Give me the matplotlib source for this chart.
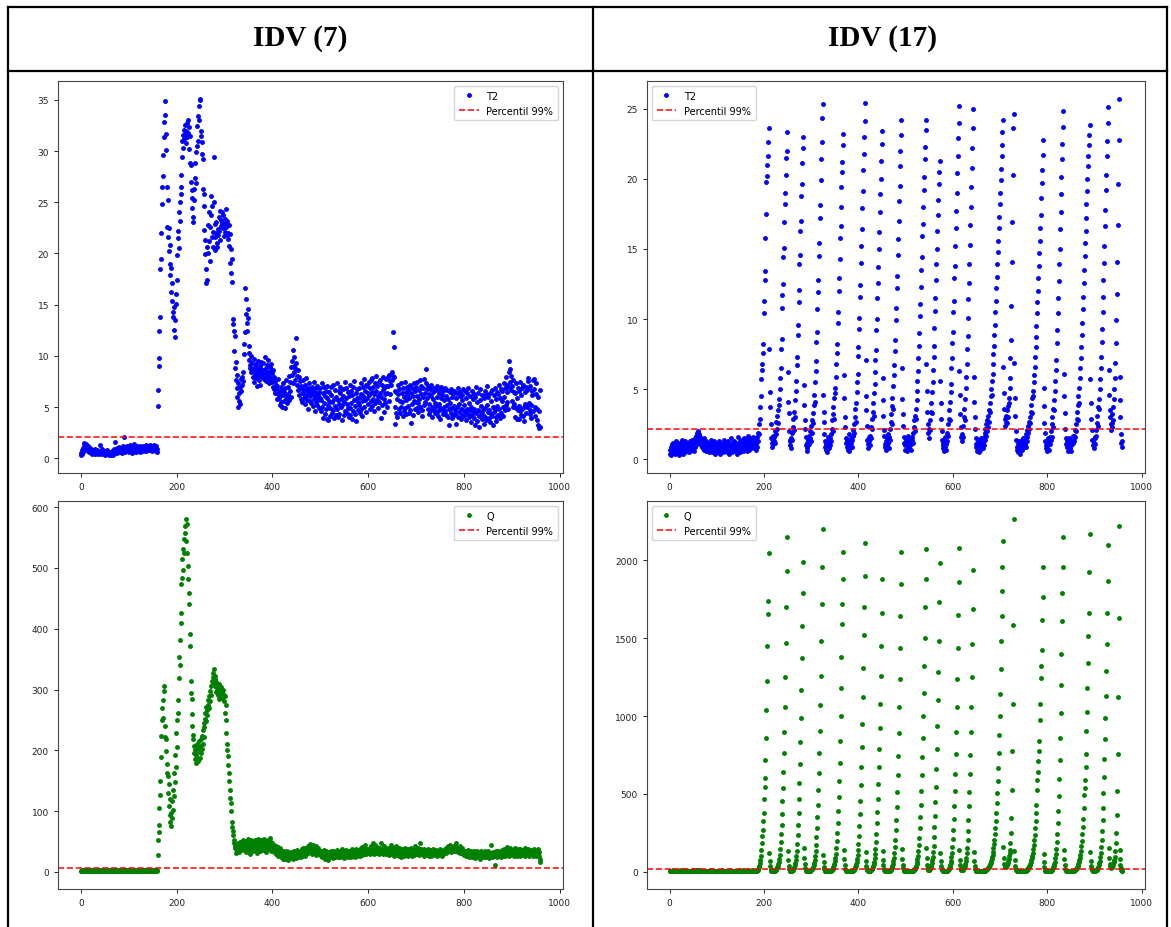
import matplotlib
matplotlib.use("Agg")
import matplotlib.pyplot as plt
from matplotlib.lines import Line2D
import numpy as np


# ---------------- IDV (7) ----------------
T2_IDV7_NORMAL = [
    0.3, 0.5, 0.4, 0.8, 1.0, 0.6, 1.2, 1.5, 1.3, 1.1, 1.4, 0.9, 1.0, 0.8, 1.2, 0.7, 0.9, 0.6, 1.0, 0.8,
    0.7, 0.5, 0.9, 0.6, 0.4, 0.7, 0.8, 0.5, 0.6, 0.9, 0.4, 0.7, 0.5, 0.6, 0.8, 0.4, 0.6, 0.5, 0.7, 1.3,
    0.6, 0.5, 0.4, 0.7, 0.6, 0.9, 0.5, 0.6, 0.4, 0.5, 0.7, 0.3, 0.6, 0.5, 0.8, 0.4, 0.6, 0.5, 0.3, 0.6,
    0.4, 0.5, 0.3, 0.6, 0.4, 0.7, 0.5, 0.3, 0.8, 0.6, 0.9, 0.5, 1.6, 0.7, 0.6, 1.0, 0.5, 0.8, 0.6, 0.9,
    1.1, 0.7, 0.6, 0.9, 1.0, 0.5, 0.8, 1.2, 0.7, 0.9, 2.1, 1.0, 0.8, 0.6, 1.1, 0.9, 0.7, 1.2, 0.8, 1.0,
    0.6, 0.9, 1.3, 0.7, 1.0, 0.8, 0.5, 1.1, 0.9, 0.6, 1.0, 1.4, 0.8, 0.7, 1.1, 0.9, 0.6, 1.2, 0.8, 1.0,
    0.7, 1.0, 0.9, 1.2, 0.6, 0.8, 1.1, 0.9, 1.0, 0.7, 1.2, 0.8, 1.0, 0.9, 1.1, 0.7, 1.3, 0.9, 1.0, 0.8,
    1.1, 0.9, 1.2, 0.8, 1.0, 1.3, 0.9, 1.1, 0.7, 1.0, 1.2, 0.9, 1.1, 1.3, 1.0, 0.8, 1.2, 0.7, 0.6, 0.9,
]
T2_IDV7_FAULT = [
    5.1, 6.7, 9.0, 9.8, 12.4, 13.8, 18.5, 19.5, 22.0, 24.8, 26.5, 27.6, 29.6, 32.8, 31.4, 33.5, 34.9, 31.7, 30.1, 26.5,
    22.6, 25.2, 21.6, 20.2, 22.5, 19.0, 20.8, 17.9, 18.6, 16.2, 17.1, 15.4, 14.3, 13.8, 14.8, 12.5, 11.8, 13.5, 16.0, 15.1,
    17.4, 19.8, 21.5, 22.2, 24.0, 20.5, 25.0, 23.2, 26.5, 27.7, 25.8, 29.4, 31.0, 30.3, 31.6, 32.1, 31.2, 32.5, 31.7, 30.8,
    32.0, 32.7, 31.4, 33.0, 31.8, 32.3, 30.2, 28.8, 31.5, 27.0, 28.6, 26.2, 24.4, 25.4, 23.6, 23.1, 25.2, 26.3, 27.4, 28.8,
    26.9, 29.9, 30.5, 32.4, 31.0, 33.4, 34.4, 33.0, 35.1, 35.0, 32.0, 31.5, 30.9, 29.7, 29.2, 26.3, 25.8, 24.6, 22.3, 21.3,
    19.9, 18.5, 17.1, 20.6, 17.4, 22.8, 20.0, 21.2, 24.0, 19.3, 22.6, 25.6, 23.8, 24.6, 21.6, 20.6, 22.1, 29.4, 25.0, 22.9,
    21.6, 20.3, 23.1, 22.0, 21.0, 20.6, 21.8, 22.4, 23.6, 22.2, 21.3, 24.1, 23.3, 22.7, 24.0, 23.0, 22.5, 23.8, 21.7, 22.9,
    23.4, 22.1, 24.3, 23.0, 22.6, 21.8, 23.2, 22.0, 21.4, 22.8, 20.7, 21.9, 19.1, 20.4, 18.1, 17.2, 19.5, 13.6, 13.1, 12.4,
    10.5, 11.9, 8.8, 9.4, 7.6, 8.1, 6.9, 6.0, 7.3, 5.0, 5.6, 6.4, 7.0, 5.3, 7.7, 6.6, 7.9, 7.2, 8.4, 7.5,
    10.2, 11.2, 12.3, 16.6, 15.6, 14.1, 13.2, 12.4, 14.6, 13.7, 11.0, 9.6, 10.3, 8.8, 9.1, 8.4, 10.0, 8.7, 9.3, 7.9,
    8.6, 9.7, 7.4, 8.9, 8.2, 9.2, 7.8, 8.5, 7.1, 9.5, 8.0, 8.8, 7.6, 9.0, 8.3, 7.2, 8.7, 9.4, 7.9, 8.4,
    8.1, 9.3, 7.7, 8.6, 9.9, 8.2, 7.5, 8.8, 9.1, 7.9, 8.4, 9.6, 7.3, 8.0, 8.9, 7.6, 8.5, 9.2, 7.8, 8.3,
    7.4, 8.6, 7.0, 7.9, 6.8, 7.5, 6.4, 7.2, 6.9, 5.8, 7.1, 6.3, 7.7, 5.9, 6.6, 5.2, 6.1, 7.0, 5.5, 6.4,
    6.8, 5.0, 6.2, 7.3, 5.6, 6.5, 4.9, 6.9, 5.8, 7.6, 6.1, 5.4, 7.0, 6.3, 8.0, 5.7, 6.6, 7.4, 6.0, 8.9,
    9.5, 8.1, 7.3, 10.6, 9.0, 8.4, 9.9, 7.6, 8.8, 11.7, 9.3, 8.0, 7.2, 8.6, 6.7, 7.9, 6.2, 7.5, 6.9, 5.8,
    7.1, 6.4, 5.5, 6.8, 7.6, 5.9, 6.3, 7.2, 6.0, 5.3, 6.7, 7.8, 6.2, 5.7, 6.9, 4.8, 6.5, 7.3, 5.6, 6.1,
    6.8, 5.4, 7.0, 6.3, 5.1, 6.6, 7.4, 5.8, 6.0, 4.6, 6.9, 5.5, 6.4, 7.1, 5.2, 6.2, 5.7, 4.9, 6.5, 5.9,
    6.9, 4.6, 5.7, 7.3, 5.0, 3.9, 6.4, 5.4, 7.0, 4.3, 6.1, 6.6, 4.8, 3.8, 5.9, 7.1, 5.2, 3.7, 5.6, 6.5,
    4.9, 4.1, 6.2, 7.0, 4.4, 5.5, 7.2, 4.7, 3.9, 5.8, 6.7, 5.1, 4.2, 6.0, 7.3, 4.8, 4.0, 5.7, 6.6, 5.3,
    4.3, 6.4, 7.0, 5.0, 5.8, 3.7, 5.2, 6.8, 6.1, 4.2, 5.5, 7.4, 4.6, 5.9, 6.9, 4.4, 5.3, 6.5, 4.9, 4.0,
    6.1, 7.2, 4.9, 4.2, 6.6, 5.4, 3.8, 6.2, 7.0, 4.6, 5.7, 7.5, 4.3, 5.1, 6.4, 3.6, 5.9, 6.8, 4.7, 5.5,
    6.9, 5.2, 4.4, 6.0, 7.3, 4.8, 6.3, 5.6, 4.1, 7.0, 6.1, 7.7, 5.0, 6.6, 5.7, 7.2, 4.5, 5.9, 7.1, 6.4,
    5.3, 7.4, 6.2, 4.8, 6.9, 5.6, 7.6, 5.1, 6.5, 7.8, 5.8, 7.0, 4.6, 6.3, 7.3, 5.4, 8.0, 6.6, 5.7, 7.1,
    4.9, 6.1, 7.4, 5.5, 7.6, 6.4, 3.9, 6.0, 7.2, 5.2, 6.7, 7.9, 5.8, 4.5, 6.9, 6.3, 5.4, 7.7, 7.1, 5.0,
    6.4, 7.9, 7.1, 5.6, 8.1, 7.5, 6.3, 8.2, 7.2, 8.4, 7.6, 8.0, 12.3, 10.9, 7.9, 6.6, 3.3, 5.0, 4.4, 6.5,
    5.8, 4.0, 6.3, 7.2, 4.8, 6.8, 5.6, 4.4, 7.3, 5.0, 6.4, 5.5, 4.1, 6.9, 6.0, 4.6, 7.4, 4.9, 6.5, 5.7,
    4.3, 7.0, 6.2, 5.1, 6.7, 4.4, 5.9, 7.2, 4.7, 3.4, 6.4, 5.3, 6.9, 6.1, 4.2, 7.3, 5.6, 4.8, 6.6, 5.5,
    7.0, 4.9, 6.1, 7.4, 5.4, 4.5, 6.7, 5.8, 7.6, 5.0, 6.3, 7.1, 4.7, 4.1, 6.0, 6.9, 5.2, 7.7, 6.4, 5.5,
    7.3, 8.7, 6.8, 5.9, 4.8, 7.1, 4.3, 6.3, 5.3, 6.8, 4.6, 6.1, 7.2, 5.0, 4.0, 6.5, 5.8, 4.7, 6.9, 5.4,
    4.4, 6.7, 5.1, 6.0, 7.1, 4.6, 4.1, 6.4, 5.3, 6.8, 4.9, 3.8, 5.9, 7.0, 4.7, 6.2, 4.3, 6.6, 5.0, 5.7,
    6.9, 4.6, 4.2, 6.1, 5.2, 6.7, 4.0, 5.8, 3.2, 4.8, 6.5, 5.4, 4.4, 6.8, 4.9, 3.9, 6.0, 6.3, 4.1, 5.1,
    6.6, 4.7, 4.3, 5.9, 3.3, 6.4, 5.0, 4.0, 6.9, 5.3, 4.5, 6.1, 6.5, 3.8, 4.8, 6.2, 4.2, 5.7, 6.8, 4.7,
    4.1, 5.2, 6.6, 4.5, 5.9, 3.7, 6.4, 4.8, 4.3, 6.9, 5.4, 4.0, 4.7, 6.1, 3.5, 5.0, 6.6, 4.2, 5.8, 4.5,
    6.3, 3.9, 4.8, 3.2, 6.0, 7.0, 4.4, 5.5, 3.6, 6.4, 4.7, 4.1, 3.1, 5.7, 6.8, 4.5, 5.1, 3.8, 6.2, 4.7,
    4.2, 5.9, 3.3, 6.6, 4.0, 4.9, 6.3, 3.7, 5.2, 7.1, 4.5, 6.0, 3.9, 4.7, 3.5, 6.4, 4.3, 5.6, 6.7, 4.1,
    5.0, 3.2, 6.2, 4.5, 6.9, 4.7, 4.0, 5.8, 3.6, 6.5, 5.1, 4.2, 6.3, 7.2, 4.8, 3.9, 5.9, 6.8, 4.4, 5.6,
    6.6, 5.0, 4.1, 7.3, 6.0, 4.7, 6.9, 7.9, 5.2, 6.5, 5.5, 7.2, 4.8, 7.0, 8.4, 9.5, 8.7, 7.4, 8.0, 6.7,
    5.6, 7.1, 5.0, 7.6, 6.5, 5.3, 4.0, 6.4, 4.9, 7.3, 3.8, 5.9, 6.9, 4.7, 3.8, 6.6, 5.1, 7.4, 4.6, 4.2,
    6.2, 6.9, 4.8, 4.1, 7.2, 5.0, 3.6, 6.5, 5.3, 7.0, 4.4, 5.0, 6.7, 7.5, 7.8, 5.4, 6.9, 4.3, 4.7, 7.1,
    5.2, 3.9, 6.6, 6.2, 7.6, 4.6, 6.8, 7.7, 5.0, 4.1, 6.3, 7.3, 4.8, 3.7, 6.0, 3.2, 4.6, 3.0, 6.7, 3.1,
]

Q_IDV7_NORMAL = [
    1, 2, 3, 2, 4, 3, 2, 3, 1, 2, 4, 3, 2, 1, 3, 2, 4, 2, 3, 1,
    2, 3, 1, 2, 3, 2, 4, 1, 2, 3, 2, 1, 3, 2, 2, 4, 1, 3, 2, 2,
    3, 1, 2, 4, 2, 3, 1, 2, 3, 2, 1, 3, 2, 4, 2, 1, 3, 2, 3, 1,
    2, 3, 2, 1, 4, 2, 3, 2, 1, 3, 2, 4, 1, 2, 3, 2, 3, 1, 2, 4,
    3, 2, 1, 3, 2, 4, 2, 3, 1, 2, 3, 2, 4, 3, 1, 2, 3, 2, 1, 3,
    2, 4, 3, 2, 1, 3, 2, 3, 4, 2, 1, 3, 2, 2, 4, 3, 1, 2, 3, 2,
    4, 2, 3, 1, 2, 3, 4, 2, 3, 2, 1, 3, 4, 2, 3, 2, 3, 1, 4, 2,
    3, 2, 4, 3, 2, 3, 1, 4, 2, 3, 2, 4, 3, 2, 3, 4, 2, 3, 2, 3,
]
Q_IDV7_FAULT = [
    28, 53, 65, 77, 105, 127, 149, 189, 223, 250, 270, 253, 283, 305, 298, 222, 240, 218, 199, 163,
    178, 157, 130, 145, 108, 120, 94, 82, 75, 97, 88, 116, 102, 135, 125, 163, 148, 193, 172, 229,
    205, 250, 283, 262, 319, 354, 340, 382, 426, 410, 473, 484, 514, 497, 531, 547, 525, 558, 569, 544,
    581, 572, 525, 503, 482, 458, 440, 391, 371, 314, 295, 285, 260, 240, 226, 218, 207, 196, 185, 201,
    192, 179, 210, 188, 204, 183, 198, 215, 187, 207, 196, 218, 203, 224, 211, 234, 222, 245, 238, 252,
    262, 248, 272, 266, 258, 283, 275, 270, 289, 281, 298, 305, 291, 314, 308, 320, 327, 310, 333, 322,
    318, 305, 296, 312, 300, 308, 291, 302, 285, 309, 295, 301, 288, 304, 297, 286, 299, 293, 281, 290,
    289, 262, 275, 250, 229, 210, 200, 190, 176, 163, 149, 135, 122, 113, 100, 82, 74, 67, 60, 53,
    48, 43, 39, 31, 37, 44, 35, 41, 47, 38, 33, 42, 50, 45, 36, 40, 48, 43, 52, 39,
    44, 36, 51, 40, 33, 47, 38, 42, 55, 35, 41, 49, 37, 45, 30, 43, 52, 39, 46, 34,
    48, 41, 36, 53, 44, 38, 50, 32, 45, 40, 54, 37, 43, 49, 35, 46, 41, 52, 38, 44,
    50, 36, 45, 55, 40, 47, 33, 51, 42, 48, 37, 53, 44, 39, 56, 46, 41, 49, 35, 43,
    47, 38, 42, 33, 45, 36, 40, 30, 43, 34, 38, 27, 41, 32, 36, 29, 39, 25, 34, 31,
    27, 33, 22, 30, 25, 35, 28, 21, 31, 26, 34, 24, 29, 20, 32, 27, 23, 30, 26, 33,
    28, 24, 31, 22, 27, 35, 25, 29, 33, 23, 30, 26, 36, 28, 24, 32, 27, 34, 29, 25,
    31, 37, 28, 34, 40, 30, 36, 27, 33, 39, 32, 29, 38, 35, 42, 31, 37, 34, 46, 33,
    38, 35, 41, 30, 44, 36, 33, 39, 31, 37, 42, 34, 28, 38, 35, 40, 32, 36, 29, 34,
    31, 27, 35, 24, 30, 33, 26, 29, 36, 22, 31, 28, 34, 25, 30, 27, 32, 20, 29, 33,
    26, 30, 24, 34, 28, 31, 23, 35, 27, 30, 25, 33, 29, 26, 36, 28, 31, 24, 32, 27,
    30, 35, 25, 32, 28, 37, 26, 31, 34, 29, 23, 33, 30, 27, 36, 28, 32, 25, 34, 29,
    31, 26, 35, 30, 24, 33, 28, 37, 27, 32, 29, 35, 25, 31, 38, 28, 33, 26, 30, 34,
    29, 36, 27, 32, 39, 30, 34, 28, 41, 31, 35, 29, 37, 33, 44, 30, 36, 32, 38, 34,
    31, 37, 33, 40, 29, 35, 42, 32, 38, 34, 47, 36, 30, 39, 33, 44, 31, 37, 35, 41,
    32, 38, 34, 29, 40, 35, 31, 48, 36, 33, 39, 30, 37, 34, 42, 32, 36, 29, 38, 33,
    35, 31, 40, 28, 34, 37, 30, 45, 33, 36, 29, 39, 32, 35, 26, 38, 31, 34, 42, 30,
    33, 28, 36, 31, 39, 27, 34, 30, 37, 25, 32, 35, 29, 38, 31, 27, 34, 40, 30, 33,
    28, 35, 31, 37, 26, 33, 29, 36, 32, 39, 30, 27, 34, 31, 38, 28, 35, 30, 42, 33,
    31, 37, 29, 34, 40, 32, 36, 28, 47, 33, 30, 38, 35, 29, 34, 31, 37, 27, 33, 36,
    30, 34, 28, 32, 37, 29, 35, 31, 26, 33, 36, 30, 27, 34, 31, 38, 29, 32, 35, 28,
    33, 30, 36, 27, 32, 35, 29, 34, 31, 37, 28, 33, 30, 36, 26, 32, 35, 29, 34, 31,
    35, 38, 32, 40, 36, 33, 42, 37, 34, 39, 45, 35, 38, 41, 33, 36, 40, 34, 37, 43,
    36, 39, 34, 41, 48, 37, 35, 40, 33, 38, 36, 42, 31, 37, 35, 39, 32, 36, 34, 30,
    33, 28, 35, 31, 26, 34, 29, 32, 36, 27, 31, 24, 33, 30, 28, 35, 25, 32, 29, 27,
    31, 26, 34, 28, 23, 32, 29, 35, 27, 30, 25, 33, 28, 31, 22, 29, 34, 26, 30, 27,
    32, 25, 29, 35, 27, 31, 24, 33, 28, 30, 26, 34, 29, 23, 31, 27, 45, 30, 25, 32,
    28, 33, 26, 30, 12, 29, 34, 27, 31, 25, 32, 28, 35, 30, 26, 33, 29, 24, 31, 36,
    30, 27, 34, 29, 38, 32, 26, 35, 31, 28, 41, 33, 29, 36, 27, 32, 39, 30, 34, 28,
    33, 29, 36, 31, 27, 35, 30, 40, 28, 34, 32, 26, 37, 31, 29, 35, 33, 27, 38, 30,
    34, 29, 32, 36, 28, 33, 30, 39, 27, 35, 31, 34, 29, 37, 32, 26, 35, 30, 33, 28,
    36, 31, 29, 34, 27, 33, 38, 30, 28, 35, 32, 26, 34, 29, 31, 37, 27, 33, 16, 22,
]

# ---------------- IDV (17) ----------------
T2_IDV17_NORMAL = [
    0.4, 0.7, 0.3, 0.9, 0.6, 1.1, 0.5, 0.8, 1.2, 0.6, 0.9, 0.4, 1.0, 0.7, 1.3, 0.5, 0.8, 1.1, 0.6, 0.9,
    0.3, 1.2, 0.7, 0.5, 1.0, 0.8, 1.4, 0.6, 0.9, 0.4, 1.1, 0.7, 1.3, 0.5, 0.8, 1.0, 0.6, 1.2, 0.9, 0.7,
    1.1, 0.5, 0.8, 1.3, 0.6, 1.0, 0.9, 1.4, 0.7, 1.2, 0.8, 1.1, 0.6, 1.5, 0.9, 1.3, 1.7, 1.1, 1.5, 1.9,
    1.6, 2.0, 1.4, 1.8, 1.2, 1.6, 1.0, 1.4, 0.9, 1.3, 0.8, 1.1, 1.5, 0.7, 1.2, 0.9, 1.0, 0.6, 1.3, 0.8,
    1.1, 0.7, 1.0, 0.5, 1.2, 0.9, 0.6, 1.4, 0.8, 1.0, 0.5, 1.1, 0.7, 1.3, 0.6, 0.9, 1.2, 0.4, 1.0, 0.8,
    0.6, 1.1, 0.9, 0.5, 1.3, 0.7, 1.0, 0.4, 0.8, 1.2, 0.6, 0.9, 1.1, 0.5, 0.7, 1.4, 0.8, 1.0, 0.6, 1.2,
    0.9, 0.5, 1.1, 0.7, 1.3, 0.4, 0.8, 1.0, 0.6, 1.5, 0.9, 0.7, 1.2, 0.5, 1.0, 0.8, 1.3, 0.6, 1.1, 0.9,
    0.7, 1.2, 0.4, 1.0, 0.8, 1.6, 0.6, 1.1, 0.9, 0.5, 1.3, 0.7, 1.0, 1.4, 0.8, 0.6, 1.2, 0.9, 1.5, 0.7,
    1.1, 0.8, 1.3, 0.6, 1.0, 1.4, 0.9, 1.7, 0.7, 1.2, 1.0, 1.5, 0.8, 1.3, 1.1, 0.9, 1.6, 1.2, 0.8, 1.4,
    1.0, 1.3, 0.7, 1.1,
]
# one line per disturbance cycle: decay after reset, quiet part, rise to the peak
T2_IDV17_FAULT = [
    1.2, 0.9, 1.6, 1.3, 1.9, 2.5, 1.8, 2.9, 3.7, 4.5, 5.7, 6.4, 6.8, 7.6, 8.2, 10.4, 11.3, 12.8, 13.4, 15.8, 17.5, 19.8, 20.2, 21.0, 22.6, 21.6, 23.6,
    7.9, 4.8, 3.7, 2.5, 1.5, 1.2, 0.9, 1.4, 1.1, 1.7, 1.3, 1.6, 1.2, 2.0, 1.8, 2.7, 2.2, 3.1, 2.6, 3.5, 4.3, 3.9, 5.0, 5.8, 6.5, 7.9, 8.6, 10.8, 11.7, 12.5, 14.4, 15.1, 16.9, 18.2, 19.0, 20.3, 21.5, 22.0, 23.3,
    6.2, 4.1, 3.3, 2.0, 1.4, 1.0, 1.3, 0.8, 1.5, 1.9, 1.4, 2.3, 2.9, 2.1, 3.4, 3.0, 4.2, 4.9, 5.6, 6.7, 7.3, 8.9, 9.6, 11.2, 12.1, 13.9, 14.6, 16.3, 17.0, 18.8, 19.6, 21.1, 22.2, 23.0,
    5.3, 3.9, 2.8, 2.2, 1.6, 1.0, 0.8, 1.2, 0.6, 1.4, 1.0, 1.7, 1.1, 1.5, 2.0, 1.3, 2.4, 1.9, 2.8, 3.3, 2.6, 3.9, 4.6, 4.1, 5.5, 6.3, 7.0, 8.4, 9.1, 10.7, 11.9, 12.8, 14.5, 15.4, 17.2, 18.1, 19.9, 21.4, 22.6, 24.3, 25.3,
    4.6, 3.4, 2.7, 1.8, 1.3, 0.9, 1.1, 0.7, 1.3, 0.5, 1.0, 1.6, 0.8, 1.2, 1.5, 1.0, 1.8, 1.3, 2.2, 2.8, 2.0, 3.2, 3.7, 2.9, 4.4, 5.1, 4.7, 5.9, 6.8, 7.6, 8.2, 9.7, 10.5, 12.0, 12.9, 14.3, 15.8, 16.6, 18.0, 19.4, 20.5, 21.2, 22.4, 23.2,
    6.0, 4.4, 3.0, 2.3, 1.5, 1.2, 0.9, 1.4, 0.7, 1.1, 1.8, 0.6, 1.3, 1.0, 0.8, 1.5, 1.2, 0.9, 1.4, 2.1, 1.7, 2.5, 1.9, 3.0, 3.6, 2.7, 4.0, 4.8, 5.5, 6.1, 7.4, 8.0, 9.3, 10.1, 11.6, 12.4, 14.0, 15.2, 16.4, 17.9, 19.1, 20.6, 21.8, 23.0, 24.1, 25.4,
    7.1, 4.5, 3.5, 2.4, 1.4, 1.1, 0.8, 1.3, 1.6, 1.0, 1.7, 2.3, 1.5, 2.9, 2.2, 3.4, 4.0, 3.1, 4.7, 5.4, 6.2, 7.1, 7.8, 9.2, 10.0, 11.5, 12.6, 13.7, 15.0, 16.2, 17.6, 18.9, 20.0, 21.3, 22.5, 23.4,
    5.8, 4.2, 3.1, 2.1, 1.7, 1.1, 0.9, 1.3, 0.7, 1.5, 1.0, 1.2, 1.8, 0.8, 1.6, 2.2, 1.4, 2.7, 3.2, 2.5, 3.8, 4.4, 3.6, 5.2, 6.0, 6.7, 7.7, 8.5, 9.9, 10.8, 12.2, 13.1, 14.6, 15.7, 17.0, 18.4, 19.5, 20.9, 22.0, 23.1, 24.2,
    6.5, 4.3, 3.2, 2.4, 1.6, 1.2, 1.0, 0.7, 1.4, 1.1, 0.6, 1.3, 0.9, 1.7, 1.2, 0.8, 1.5, 1.0, 1.3, 0.7, 1.1, 1.6, 1.4, 1.9, 1.2, 2.3, 2.8, 2.0, 3.1, 3.6, 2.9, 4.2, 4.9, 5.6, 6.3, 7.2, 8.1, 9.0, 10.2, 11.1, 12.3, 13.5, 14.4, 15.9, 16.8, 18.0, 19.2, 20.1, 21.4, 22.3, 23.5, 24.2,
    6.8, 4.9, 3.4, 2.5, 1.9, 1.5, 2.2, 2.8, 2.1, 3.4, 4.0, 3.3, 4.8, 5.5, 6.4, 7.3, 8.1, 9.4, 10.6, 11.5, 12.8, 13.9, 15.0, 16.3, 17.4, 18.5, 19.6, 20.5, 21.3,
    5.6, 4.0, 2.9, 2.0, 1.4, 1.0, 0.8, 1.2, 0.6, 1.4, 0.9, 1.6, 1.1, 0.7, 1.3, 1.9, 2.5, 1.7, 2.9, 3.5, 2.8, 4.1, 4.8, 5.4, 6.5, 7.2, 8.3, 9.1, 10.5, 11.3, 12.9, 13.8, 15.2, 16.5, 17.7, 19.0, 20.4, 21.6, 22.9, 24.0, 25.2,
    6.3, 4.6, 3.2, 2.3, 1.6, 1.3, 1.8, 2.4, 1.6, 3.0, 3.6, 2.8, 4.3, 5.1, 5.9, 6.8, 7.9, 8.8, 10.1, 11.4, 12.6, 13.9, 15.3, 16.7, 18.0, 19.4, 20.8, 22.2, 23.6, 25.0,
    5.9, 4.1, 3.0, 2.2, 1.5, 1.1, 0.9, 0.6, 1.2, 0.8, 1.4, 0.5, 1.0, 1.3, 0.7, 1.1, 1.5, 0.9, 1.2, 0.8, 1.2, 1.6, 1.0, 1.9, 1.4, 2.2, 1.7, 2.5, 2.0, 2.8, 2.3, 3.1, 2.7, 3.5, 4.0, 3.4, 4.5, 5.0, 4.6, 5.6, 6.1, 6.8, 7.5, 8.1, 8.9, 9.6, 10.5, 11.3, 12.2, 13.0, 13.9, 14.8, 15.6, 16.5, 17.3, 18.2, 19.0, 19.9, 20.7, 21.6, 22.4, 23.3, 24.2,
    6.6, 4.7, 3.6, 2.9, 2.4, 2.7, 3.1, 2.6, 3.5, 3.0, 3.8, 4.4, 4.0, 5.1, 5.8, 7.2, 8.5, 10.9, 14.1, 16.9, 20.3, 23.6, 24.6,
    6.9, 4.4, 3.1, 2.0, 1.4, 0.9, 0.7, 1.1, 0.5, 0.9, 1.3, 0.6, 1.0, 0.4, 1.2, 0.8, 1.4, 0.7, 1.0, 1.5, 0.9, 1.2, 1.1, 1.5, 0.9, 1.8, 1.3, 2.1, 1.6, 2.4, 1.9, 2.7, 2.2, 3.0, 2.6, 3.4, 3.9, 3.3, 4.4, 4.9, 4.5, 5.5, 6.0, 6.6, 7.3, 8.0, 8.7, 9.5, 10.4, 11.2, 12.0, 12.9, 13.8, 14.7, 15.6, 16.5, 17.4, 18.6, 19.7, 20.6, 21.7, 22.8,
    5.1, 3.8, 2.6, 1.9, 1.3, 1.0, 0.8, 1.2, 0.6, 1.5, 1.0, 1.3, 0.7, 1.1, 1.6, 1.4, 2.0, 1.6, 2.5, 3.0, 2.3, 3.6, 4.2, 3.5, 4.9, 5.6, 6.4, 7.1, 8.3, 9.2, 10.4, 11.5, 12.7, 13.9, 15.0, 16.4, 17.6, 18.9, 20.1, 21.4, 22.5, 23.7, 24.8,
    6.1, 4.5, 3.3, 2.2, 1.5, 1.1, 0.9, 1.3, 0.6, 1.0, 1.5, 0.7, 1.2, 0.8, 1.4, 1.0, 0.6, 1.3, 1.1, 1.7, 1.2, 1.7, 1.3, 2.1, 1.6, 2.5, 2.0, 2.9, 3.4, 2.8, 3.9, 4.5, 4.0, 5.1, 5.8, 6.5, 7.2, 8.0, 8.9, 9.7, 10.7, 11.6, 12.6, 13.5, 14.5, 15.4, 16.3, 17.2, 18.2, 19.1, 20.0, 20.9, 21.6, 22.4, 23.1, 23.8,
    5.7, 4.0, 2.9, 2.1, 1.4, 1.0, 1.4, 0.8, 1.2, 1.6, 1.1, 1.5, 2.1, 1.7, 2.6, 3.1, 2.4, 3.7, 4.3, 3.6, 5.0, 5.7, 6.5, 7.3, 8.4, 9.3, 10.5, 11.6, 12.8, 14.0, 15.2, 16.6, 17.8, 19.2, 20.3, 21.6, 22.7, 24.0, 25.1,
    6.4, 4.6, 3.5, 3.0, 2.5, 2.1, 2.6, 2.3, 3.2, 2.8, 3.7, 4.3, 5.0, 5.8, 6.9, 8.3, 9.9, 11.8, 14.1, 16.7, 19.6, 22.8, 25.7,
    5.9, 4.2, 3.0, 1.8, 1.2, 0.9, 1.3,
]

Q_IDV17_NORMAL = [
    3, 5, 2, 6, 4, 7, 3, 5, 8, 4, 6, 2, 5, 7, 3, 4, 6, 5, 3, 7,
    4, 6, 3, 5, 8, 2, 5, 4, 7, 3, 6, 5, 4, 8, 3, 5, 6, 2, 4, 7,
    5, 3, 6, 4, 7, 5, 3, 6, 4, 5, 8, 4, 6, 3, 7, 5, 9, 6, 8, 10,
    7, 11, 8, 9, 6, 8, 5, 7, 4, 6, 5, 7, 3, 6, 4, 5, 7, 3, 6, 4,
    5, 3, 7, 4, 6, 2, 5, 8, 4, 6, 3, 5, 7, 4, 3, 6, 5, 2, 7, 4,
    6, 3, 5, 4, 7, 3, 6, 5, 2, 4, 6, 8, 3, 5, 4, 7, 3, 6, 5, 4,
    5, 7, 3, 6, 4, 5, 8, 4, 6, 3, 5, 7, 2, 4, 6, 5, 3, 7, 4, 6,
    4, 6, 5, 3, 7, 4, 5, 8, 3, 6, 4, 5, 7, 3, 6, 9, 4, 5, 6, 3,
    5, 7, 4, 6, 3, 8, 5, 4, 6, 7, 3, 5, 6, 4, 8, 5, 7, 4, 6, 5,
    6, 4, 7, 5,
]
Q_IDV17_FAULT = [
    4, 6, 9, 13, 19, 27, 38, 53, 74, 103, 140, 185, 227, 270, 323, 377, 468, 545, 603, 716, 860, 1037, 1224, 1449, 1653, 1738, 2049,
    120, 66, 34, 15, 6, 3, 2, 4, 3, 5, 4, 5, 7, 9, 12, 16, 21, 28, 37, 49, 64, 84, 110, 144, 188, 245, 300, 370, 455, 540, 640, 760, 900, 1060, 1250, 1470, 1700, 1930, 2150,
    135, 72, 38, 17, 8, 4, 3, 5, 4, 6, 8, 11, 15, 21, 29, 40, 55, 75, 100, 135, 180, 235, 300, 380, 470, 570, 690, 830, 990, 1170, 1370, 1580, 1790, 1991,
    150, 88, 47, 22, 10, 5, 3, 4, 2, 3, 5, 3, 4, 5, 6, 8, 11, 14, 19, 25, 33, 44, 58, 77, 100, 130, 170, 220, 280, 350, 430, 525, 635, 760, 905, 1070, 1260, 1480, 1720, 1960, 2199,
    110, 60, 31, 14, 7, 4, 3, 2, 4, 3, 2, 5, 3, 4, 6, 4, 6, 8, 10, 13, 17, 23, 30, 40, 52, 68, 89, 115, 150, 195, 250, 315, 390, 480, 580, 700, 840, 1000, 1180, 1380, 1590, 1720, 1880, 2056,
    140, 80, 42, 20, 9, 5, 3, 4, 2, 3, 5, 4, 3, 2, 4, 5, 3, 4, 5, 7, 9, 12, 16, 21, 28, 37, 48, 63, 82, 107, 140, 180, 232, 295, 370, 455, 555, 670, 800, 950, 1120, 1310, 1520, 1700, 1900, 2110,
    125, 70, 36, 16, 8, 4, 3, 5, 3, 4, 6, 8, 11, 15, 20, 27, 36, 48, 64, 85, 112, 147, 190, 245, 310, 385, 470, 565, 670, 790, 925, 1080, 1260, 1450, 1660, 1878,
    130, 75, 40, 19, 9, 5, 3, 4, 3, 2, 4, 5, 3, 4, 5, 7, 9, 12, 16, 22, 29, 39, 52, 69, 91, 120, 157, 205, 265, 335, 415, 510, 620, 745, 890, 1055, 1240, 1440, 1640, 1850, 2054,
    145, 82, 44, 21, 10, 5, 3, 2, 4, 3, 5, 4, 2, 3, 4, 6, 3, 4, 5, 3, 4, 5, 5, 6, 8, 10, 13, 17, 22, 28, 36, 47, 61, 79, 102, 132, 170, 218, 278, 350, 430, 520, 620, 735, 860, 1000, 1150, 1320, 1500, 1700, 1880, 2071,
    150, 85, 45, 22, 12, 10, 13, 17, 23, 31, 41, 55, 73, 97, 128, 168, 220, 285, 360, 445, 545, 660, 790, 935, 1100, 1280, 1480, 1730, 1985,
    120, 68, 35, 16, 8, 4, 3, 4, 2, 3, 5, 4, 3, 4, 5, 7, 9, 12, 16, 22, 30, 40, 53, 70, 93, 122, 160, 208, 268, 340, 425, 520, 630, 755, 900, 1060, 1240, 1440, 1650, 1860, 2077,
    140, 78, 40, 19, 10, 8, 9, 12, 16, 21, 28, 38, 51, 68, 90, 118, 155, 203, 262, 335, 420, 515, 625, 750, 895, 1060, 1250, 1460, 1690, 1936,
    125, 70, 37, 17, 8, 4, 3, 2, 4, 3, 2, 4, 5, 3, 2, 4, 3, 5, 4, 3, 4, 5, 6, 7, 8, 9, 11, 13, 15, 18, 21, 25, 30, 35, 41, 48, 57, 67, 79, 93, 109, 128, 150, 176, 206, 240, 280, 325, 378, 438, 505, 582, 668, 765, 875, 1000, 1140, 1300, 1480, 1640, 1800, 1960, 2122,
    160, 90, 50, 34, 28, 30, 35, 41, 48, 57, 68, 82, 98, 118, 141, 184, 249, 345, 527, 774, 1078, 1584, 2268,
    130, 74, 39, 18, 9, 5, 3, 4, 2, 3, 2, 4, 3, 5, 2, 3, 4, 3, 5, 4, 3, 4, 5, 6, 7, 9, 11, 13, 16, 19, 23, 28, 34, 41, 50, 60, 72, 86, 103, 122, 145, 172, 203, 238, 278, 325, 378, 431, 527, 592, 641, 709, 774, 842, 973, 1078, 1241, 1324, 1427, 1620, 1766, 1960,
    115, 64, 33, 15, 7, 4, 3, 2, 4, 3, 5, 3, 4, 2, 4, 5, 7, 9, 12, 16, 21, 28, 37, 49, 65, 85, 111, 145, 188, 243, 310, 390, 485, 595, 720, 860, 1020, 1200, 1400, 1610, 1790, 1960, 2152,
    140, 80, 42, 20, 9, 5, 3, 4, 2, 3, 5, 3, 2, 4, 3, 5, 4, 3, 4, 5, 6, 7, 9, 11, 13, 16, 19, 23, 28, 34, 41, 50, 61, 74, 90, 110, 134, 163, 198, 240, 285, 339, 409, 495, 538, 592, 671, 759, 905, 1027, 1177, 1342, 1513, 1663, 1925, 2167,
    125, 70, 36, 17, 8, 4, 3, 5, 3, 4, 5, 6, 8, 10, 13, 17, 23, 30, 40, 53, 70, 92, 120, 156, 202, 260, 330, 412, 505, 610, 725, 850, 985, 1130, 1290, 1460, 1660, 1870, 2096,
    150, 88, 50, 36, 30, 26, 29, 33, 38, 44, 52, 62, 75, 93, 131, 184, 249, 366, 521, 759, 1121, 1627, 2221,
    140, 80, 44, 22, 12, 7, 5,
]

# 99th percentile control limits
LIMIT_T2_IDV7 = 2.1
LIMIT_Q_IDV7 = 6.0
LIMIT_T2_IDV17 = 2.17
LIMIT_Q_IDV17 = 14.0

COLUMN_TITLES = ["IDV (7)", "IDV (17)"]


def scatter_panel(ax, values, limit, color, label, legend_loc):
    values = np.asarray(values, dtype=float)
    samples = np.arange(len(values))
    ax.plot(samples, values, ".", color=color, markersize=5, label=label)
    ax.axhline(limit, color="red", linestyle="--", linewidth=1.2, alpha=0.9,
               label="Percentil 99%")
    ax.set_xticks([0, 200, 400, 600, 800, 1000])
    ax.tick_params(labelsize=6.5, length=3, width=0.7, colors="#222222")
    for spine in ax.spines.values():
        spine.set_linewidth(0.8)
        spine.set_color("#444444")
    ax.legend(loc=legend_loc, fontsize=7, handlelength=2.0, borderpad=0.5)


def main() -> int:
    fig = plt.figure(figsize=(11.71, 9.28), dpi=100)
    W, H = 1171.0, 928.0

    def box(x0, y0, x1, y1):
        return [x0 / W, 1 - y1 / H, (x1 - x0) / W, (y1 - y0) / H]

    ax_t2_7 = fig.add_axes(box(58, 82, 563, 474))
    ax_q_7 = fig.add_axes(box(58, 502, 563, 890))
    ax_t2_17 = fig.add_axes(box(647, 82, 1145, 474))
    ax_q_17 = fig.add_axes(box(647, 502, 1145, 890))

    scatter_panel(ax_t2_7, T2_IDV7_NORMAL + T2_IDV7_FAULT, LIMIT_T2_IDV7, "blue", "T2", "upper right")
    scatter_panel(ax_q_7, Q_IDV7_NORMAL + Q_IDV7_FAULT, LIMIT_Q_IDV7, "green", "Q", "upper right")
    scatter_panel(ax_t2_17, T2_IDV17_NORMAL + T2_IDV17_FAULT, LIMIT_T2_IDV17, "blue", "T2", "upper left")
    scatter_panel(ax_q_17, Q_IDV17_NORMAL + Q_IDV17_FAULT, LIMIT_Q_IDV17, "green", "Q", "upper left")

    # table frame around the four panels
    def hline(y, x0, x1):
        fig.add_artist(Line2D([x0 / W, x1 / W], [1 - y / H, 1 - y / H],
                              transform=fig.transFigure, color="black", linewidth=1.6))

    def vline(x, y0, y1):
        fig.add_artist(Line2D([x / W, x / W], [1 - y0 / H, 1 - y1 / H],
                              transform=fig.transFigure, color="black", linewidth=1.6))

    hline(8, 8, 1167)
    hline(72, 8, 1167)
    vline(8, 8, 928)
    vline(593, 8, 928)
    vline(1167, 8, 928)

    for title, cx in zip(COLUMN_TITLES, [300, 883]):
        fig.text(cx / W, 1 - 38 / H, title, ha="center", va="center", fontsize=21,
                 fontweight="bold", family=["Liberation Serif", "DejaVu Serif"])

    fig.savefig("out.png", dpi=100)
    return 0


if __name__ == "__main__":
    raise SystemExit(main())
